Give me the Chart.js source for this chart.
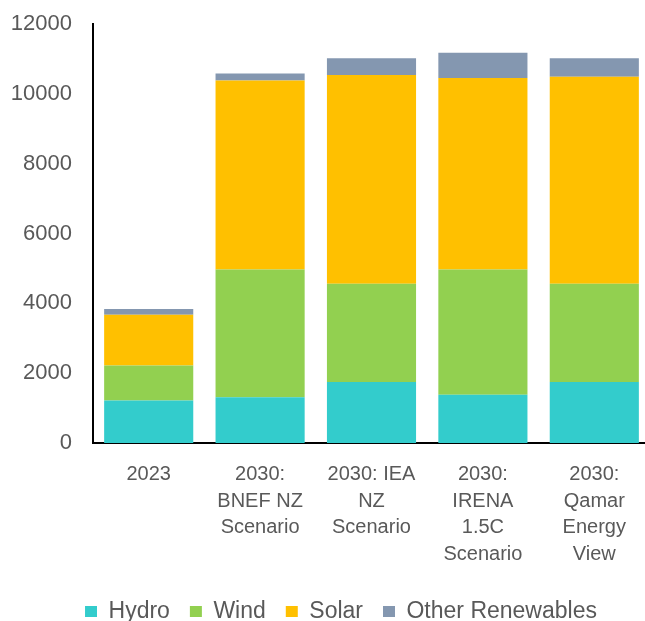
<!DOCTYPE html>
<html>
<head>
<meta charset="utf-8">
<script src="https://cdn.jsdelivr.net/npm/chart.js@4.4.1/dist/chart.umd.min.js"></script>
<style>
  html, body { margin: 0; padding: 0; background: #fff; overflow: hidden; }
  #wrap { position: relative; width: 660px; height: 621px; }
</style>
</head>
<body>
<div id="wrap"><canvas id="chart1"></canvas></div>
<script>
// categories (multi-line labels under each bar)
var scenarios = [
  ["2023"],
  ["2030:", "BNEF NZ", "Scenario"],
  ["2030: IEA", "NZ", "Scenario"],
  ["2030:", "IRENA", "1.5C", "Scenario"],
  ["2030:", "Qamar", "Energy", "View"]
];

// stacked capacity by technology
var hydro = [1220, 1310, 1750, 1380, 1750];
var wind = [1000, 3660, 2810, 3590, 2810];
var solar = [1450, 5410, 5980, 5480, 5930];
var otherRenewables = [170, 200, 480, 725, 530];

var yTicks = [0, 2000, 4000, 6000, 8000, 10000, 12000];

var textGrey = "#595959";
var family = "'Liberation Sans', Arial, sans-serif";

// short legend strip, nudged right so it centres under the plot
var legendPlace = {
  id: "legendPlace",
  beforeLayout: function (chart) {
    var lg = chart.legend;
    if (!lg || lg._fitPatched) return;
    var fit = lg.fit;
    lg.fit = function () {
      fit.call(this);
      this.height = 41;
      this.minSize = { width: this.width, height: 41 };
    };
    lg._fitPatched = true;
  },
  afterLayout: function (chart) {
    var lg = chart.legend;
    if (!lg) return;
    lg.left += 16;
    lg.right += 16;
  }
};

new Chart(document.getElementById("chart1"), {
  type: "bar",
  data: {
    labels: scenarios,
    datasets: [
      { label: "Hydro", data: hydro, backgroundColor: "#33CCCC" },
      { label: "Wind", data: wind, backgroundColor: "#92D050" },
      { label: "Solar", data: solar, backgroundColor: "#FFC000" },
      { label: "Other Renewables", data: otherRenewables, backgroundColor: "#8497B0" }
    ]
  },
  options: {
    responsive: true,
    maintainAspectRatio: false,
    animation: false,
    datasets: {
      bar: { categoryPercentage: 1, barPercentage: 0.8 }
    },
    layout: { padding: { top: 24, right: 10, left: 0, bottom: 0 } },
    plugins: {
      tooltip: { enabled: false },
      legend: {
        position: "bottom",
        labels: {
          color: textGrey,
          font: { family: family, size: 23 },
          boxWidth: 12,
          boxHeight: 11,
          padding: 20
        }
      }
    },
    scales: {
      x: {
        stacked: true,
        grid: { display: false, drawTicks: false },
        border: { display: true, color: "#000", width: 2 },
        afterFit: function (scale) { scale.height = 137; },
        ticks: {
          color: textGrey,
          font: { family: family, size: 20, lineHeight: 1.335 },
          maxRotation: 0,
          autoSkip: false,
          padding: 18
        }
      },
      y: {
        stacked: true,
        min: yTicks[0],
        max: yTicks[yTicks.length - 1],
        grid: { display: false, drawTicks: false },
        border: { display: true, color: "#000", width: 2 },
        afterBuildTicks: function (scale) {
          scale.ticks = yTicks.map(function (v) { return { value: v }; });
        },
        afterFit: function (scale) {
          scale.width = 93;
          scale.paddingTop = 0;
          scale.paddingBottom = 0;
        },
        ticks: {
          color: textGrey,
          font: { family: family, size: 22 },
          padding: 21,
          callback: function (v) { return String(v); }
        }
      }
    }
  },
  plugins: [legendPlace]
});
</script>
</body>
</html>
